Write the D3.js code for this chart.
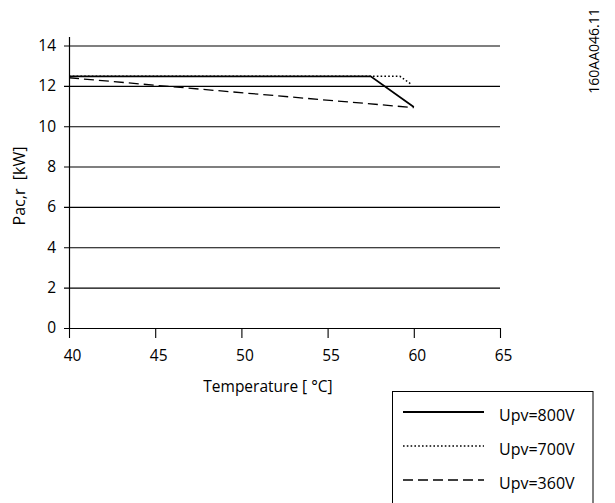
<!DOCTYPE html>
<html><head><meta charset="utf-8">
<script src="https://cdn.jsdelivr.net/npm/d3@7"></script>
<style>body{margin:0;background:#fff}svg{display:block}text{font-family:"Open Sans",sans-serif;fill:#000;white-space:pre}</style>
</head><body>
<svg id="c" width="615" height="503"></svg>
<script>
const xTicks = [40, 45, 50, 55, 60, 65];
const yTicks = [0, 2, 4, 6, 8, 10, 12, 14];
const seriesNames = ["Upv=800V", "Upv=700V", "Upv=360V"];
const temp800 = [40, 57.5, 60];
const pac800 = [12.47, 12.47, 10.95];
const temp700 = [40, 59.2, 59.9];
const pac700 = [12.47, 12.47, 12.05];
const temp360 = [40, 60];
const pac360 = [12.4, 10.92];
const docCode = "160AA046.11";

const svg = d3.select("#c");
const x = d3.scaleLinear().domain([40, 65]).range([69, 500]);
const y = d3.scaleLinear().domain([0, 14.45]).range([328, 36.4]);
const FS = "15.5px";

// y axis with gridlines
const gy = svg.append("g").attr("transform", "translate(69,0)")
  .call(d3.axisLeft(y).tickValues(yTicks).tickSizeInner(5).tickSizeOuter(0).tickPadding(8));
gy.attr("font-family", null).attr("font-size", null);
gy.select(".domain").attr("stroke", "#000").attr("stroke-width", 1.2);
gy.selectAll(".tick line").attr("x2", x(65) - 69).attr("x1", -5).attr("stroke", "#000").attr("stroke-width", 1.1);
gy.selectAll(".tick text").style("font-size", FS);

// x axis
const gx = svg.append("g").attr("transform", `translate(0,${y(0)})`)
  .call(d3.axisBottom(x).tickValues(xTicks).tickSizeInner(10).tickSizeOuter(0).tickPadding(12));
gx.attr("font-family", null).attr("font-size", null);
gx.select(".domain").attr("stroke", "#000").attr("stroke-width", 1.1);
gx.selectAll(".tick line").attr("stroke", "#000").attr("stroke-width", 1.1);
gx.selectAll(".tick text").style("font-size", FS).attr("dx", "3");

svg.append("text").attr("x", 268).attr("y", 392).attr("text-anchor", "middle")
  .style("font-size", FS).text("Temperature [ °C]");
svg.append("text").attr("transform", "translate(25,186) rotate(-90)").attr("text-anchor", "middle")
  .style("font-size", "16px").text("Pac,r  [kW]");
svg.append("text").attr("transform", "translate(599,51) rotate(-90)").attr("text-anchor", "middle")
  .style("font-size", "14px").text(docCode);

const line = d3.line().x(d => x(d[0])).y(d => y(d[1]));
const s800 = d3.zip(temp800, pac800), s700 = d3.zip(temp700, pac700), s360 = d3.zip(temp360, pac360);
const styles = [
  {w: 1.8, dash: null},
  {w: 1.5, dash: "1.6,2.2"},
  {w: 1.3, dash: "10,5"}
];
svg.append("path").datum(s360).attr("d", line).attr("fill", "none").attr("stroke", "#000")
  .attr("stroke-width", styles[2].w).attr("stroke-dasharray", styles[2].dash);
svg.append("path").datum(s700).attr("d", line).attr("fill", "none").attr("stroke", "#000")
  .attr("stroke-width", styles[1].w).attr("stroke-dasharray", styles[1].dash);
svg.append("path").datum(s800).attr("d", line).attr("fill", "none").attr("stroke", "#000")
  .attr("stroke-width", styles[0].w);

// legend
const lg = svg.append("g");
lg.append("rect").attr("x", 392.5).attr("y", 391.5).attr("width", 200.5).attr("height", 130)
  .attr("fill", "#fff").attr("stroke", "#000").attr("stroke-width", 1);
const legY = [412, 446, 480];
seriesNames.forEach((n, i) => {
  lg.append("line").attr("x1", 403).attr("x2", 484).attr("y1", legY[i]).attr("y2", legY[i])
    .attr("stroke", "#000").attr("stroke-width", i === 0 ? 2 : 1.3)
    .attr("stroke-dasharray", styles[i].dash);
  lg.append("text").attr("x", 499).attr("y", legY[i] + 8.5).style("font-size", "16px").text(n);
});
</script>
</body></html>
